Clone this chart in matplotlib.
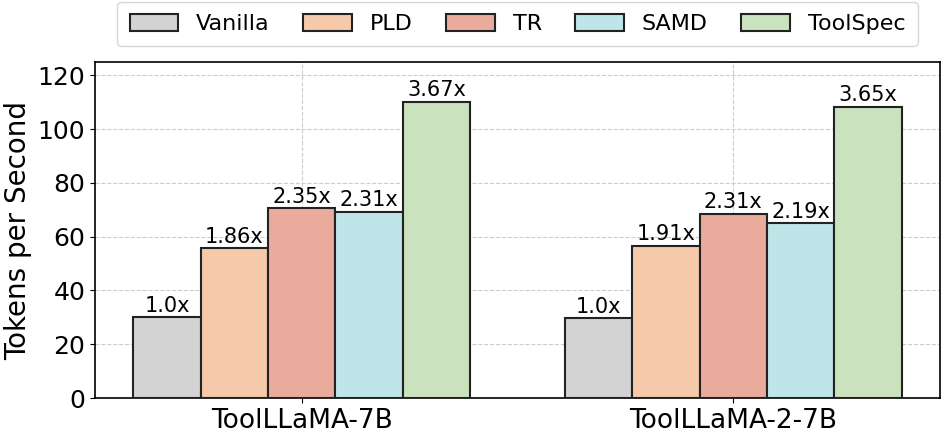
import numpy as np
import matplotlib
matplotlib.use("Agg")
import matplotlib.pyplot as plt

# data
models = ["ToolLLaMA-7B", "ToolLLaMA-2-7B"]
methods = ["Vanilla", "PLD", "TR", "SAMD", "ToolSpec"]
tps = {
    "Vanilla":  [30.0, 29.7],
    "PLD":      [55.8, 56.7],
    "TR":       [70.5, 68.6],
    "SAMD":     [69.3, 65.0],
    "ToolSpec": [110.2, 108.4],
}
speedup = {
    "Vanilla":  ["1.0x", "1.0x"],
    "PLD":      ["1.86x", "1.91x"],
    "TR":       ["2.35x", "2.31x"],
    "SAMD":     ["2.31x", "2.19x"],
    "ToolSpec": ["3.67x", "3.65x"],
}
colors = ["#d3d3d3", "#f6c9aa", "#eaab9c", "#bee6e8", "#cbe2bf"]

fig, ax = plt.subplots(figsize=(9.47, 4.41), dpi=100)
x = np.arange(len(models))
w = 0.156
for i, m in enumerate(methods):
    pos = x + (i - 2) * w
    bars = ax.bar(pos, tps[m], w, color=colors[i], edgecolor="#222222",
                  linewidth=1.5, label=m, zorder=3)
    for b, s in zip(bars, speedup[m]):
        ax.text(b.get_x() + b.get_width()/2, b.get_height() + 0.5, s,
                ha="center", va="bottom", fontsize=15, zorder=4)

ax.set_ylim(0, 125)
ax.set_yticks(np.arange(0, 121, 20))
ax.set_xticks(x)
ax.set_xticklabels(models, fontsize=19)
ax.tick_params(axis="y", labelsize=18)
ax.set_ylabel("Tokens per Second", fontsize=20)
ax.grid(True, ls="--", color="#cccccc", lw=0.8, zorder=0)
ax.set_axisbelow(True)
for sp in ax.spines.values():
    sp.set_linewidth(1.2)
ax.legend(ncol=5, loc="lower center", bbox_to_anchor=(0.5, 1.0), fontsize=16,
          handlelength=2.2, handleheight=0.8, handletextpad=0.8,
          columnspacing=1.5, borderpad=0.55, borderaxespad=0.7)
fig.subplots_adjust(left=0.1003, right=0.9926, bottom=0.0975, top=0.8594)
fig.savefig("out.png", dpi=100)
